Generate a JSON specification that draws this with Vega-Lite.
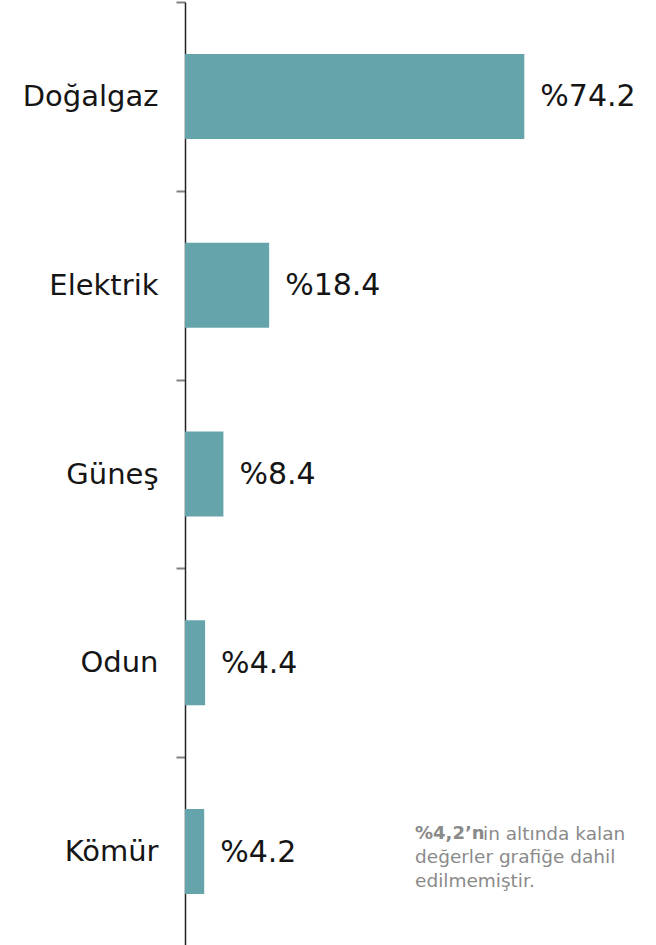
{
  "$schema": "https://vega.github.io/schema/vega-lite/v6.json",
  "width": 471,
  "height": 944,
  "autosize": {"type": "none"},
  "padding": {"left": 185, "top": 2, "right": 0, "bottom": 0},
  "background": "white",
  "config": {"view": {"stroke": null}, "font": "DejaVu Sans"},
  "datasets": {
    "bars": [
      {"kaynak": "Doğalgaz", "deger": 74.2, "etiket": "%74.2"},
      {"kaynak": "Elektrik", "deger": 18.4, "etiket": "%18.4"},
      {"kaynak": "Güneş", "deger": 8.4, "etiket": "%8.4"},
      {"kaynak": "Odun", "deger": 4.4, "etiket": "%4.4"},
      {"kaynak": "Kömür", "deger": 4.2, "etiket": "%4.2"}
    ],
    "note": [
      {"kaynak": "Kömür", "x": 50.3, "bold": "%4,2’n", "rest": "in altında kalan", "lines": ["", "değerler grafiğe dahil", "edilmemiştir."]}
    ]
  },
  "layer": [
    {
      "data": {"name": "bars"},
      "mark": {"type": "bar", "color": "#66a4ab", "orient": "horizontal", "height": {"band": 0.45}},
      "encoding": {
        "y": {
          "field": "kaynak", "type": "nominal", "sort": null,
          "scale": {"paddingInner": 0, "paddingOuter": 0},
          "axis": {
            "title": null, "tickBand": "extent", "labelFontSize": 29, "labelColor": "#151515",
            "labelPadding": 18, "tickSize": 9, "tickColor": "#808080", "tickWidth": 2,
            "domainColor": "#222222", "domainWidth": 1.5, "grid": false, "labelFont": "DejaVu Sans"
          }
        },
        "x": {"field": "deger", "type": "quantitative", "scale": {"domain": [0, 103], "nice": false, "zero": true}, "axis": null}
      }
    },
    {
      "data": {"name": "bars"},
      "mark": {"type": "text", "align": "left", "baseline": "middle", "dx": 16, "dy": 1, "fontSize": 30, "color": "#151515", "font": "DejaVu Sans"},
      "encoding": {
        "y": {"field": "kaynak", "type": "nominal", "sort": null},
        "x": {"field": "deger", "type": "quantitative"},
        "text": {"field": "etiket"}
      }
    },
    {
      "data": {"name": "note"},
      "mark": {"type": "text", "align": "left", "baseline": "middle", "dy": -18, "fontSize": 18, "fontWeight": "bold", "color": "#8a8a8a", "font": "DejaVu Sans"},
      "encoding": {
        "y": {"field": "kaynak", "type": "nominal", "sort": null},
        "x": {"field": "x", "type": "quantitative"},
        "text": {"field": "bold"}
      }
    },
    {
      "data": {"name": "note"},
      "mark": {"type": "text", "align": "left", "baseline": "middle", "dy": -18, "dx": 68, "fontSize": 18.5, "color": "#8a8a8a", "font": "DejaVu Sans"},
      "encoding": {
        "y": {"field": "kaynak", "type": "nominal", "sort": null},
        "x": {"field": "x", "type": "quantitative"},
        "text": {"field": "rest"}
      }
    },
    {
      "data": {"name": "note"},
      "mark": {"type": "text", "align": "left", "baseline": "middle", "dy": -18, "fontSize": 18.5, "lineHeight": 23.5, "color": "#8a8a8a", "font": "DejaVu Sans"},
      "encoding": {
        "y": {"field": "kaynak", "type": "nominal", "sort": null},
        "x": {"field": "x", "type": "quantitative"},
        "text": {"field": "lines"}
      }
    }
  ]
}
